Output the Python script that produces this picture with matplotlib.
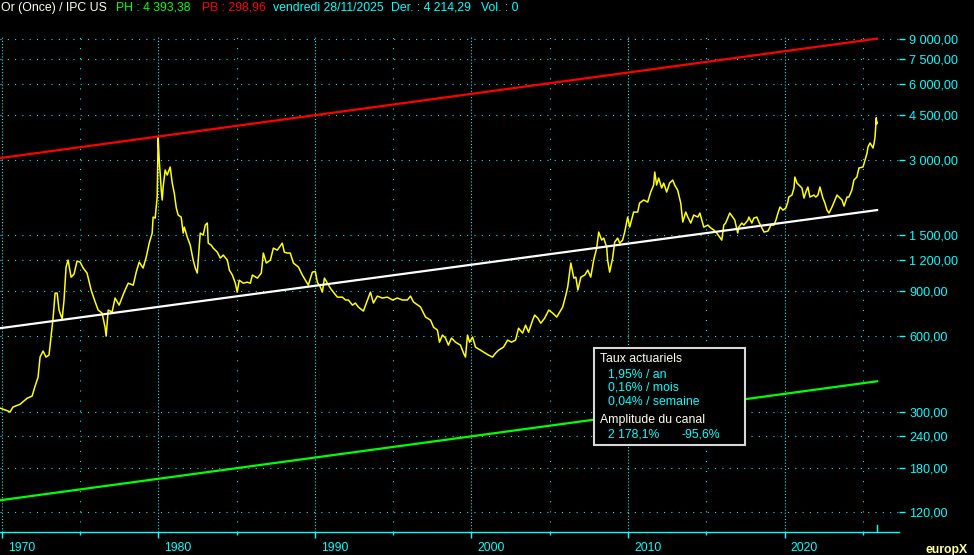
import matplotlib.pyplot as plt
from matplotlib.patches import Rectangle
from matplotlib.transforms import ScaledTranslation

plt.rcParams['font.family'] = ['Liberation Sans', 'DejaVu Sans']
plt.rcParams['lines.scale_dashes'] = False

# Or (once) / IPC US, dates en annees decimales
dates = [1969.89, 1970.40, 1970.53, 1970.72, 1971.17, 1971.62, 1971.94, 1972.13, 1972.32, 1972.45,
         1972.64, 1972.83, 1973.02, 1973.15, 1973.28, 1973.41, 1973.54, 1973.66, 1973.86, 1973.98,
         1974.11, 1974.24, 1974.43, 1974.62, 1974.81, 1975.01, 1975.20, 1975.45, 1975.71, 1975.97,
         1976.16, 1976.41, 1976.60, 1976.67, 1976.80, 1977.05, 1977.24, 1977.50, 1977.82, 1978.08,
         1978.40, 1978.59, 1978.78, 1979.03, 1979.23, 1979.42, 1979.61, 1979.67, 1979.80, 1979.93,
         1979.99, 1980.06, 1980.19, 1980.25, 1980.31, 1980.44, 1980.57, 1980.76, 1980.89, 1981.02,
         1981.15, 1981.27, 1981.46, 1981.59, 1981.66, 1981.85, 1982.04, 1982.23, 1982.36, 1982.49,
         1982.55, 1982.68, 1982.87, 1983.00, 1983.13, 1983.19, 1983.38, 1983.51, 1983.77, 1983.96,
         1984.15, 1984.41, 1984.54, 1984.73, 1984.92, 1985.04, 1985.17, 1985.43, 1985.68, 1985.88,
         1986.01, 1986.33, 1986.58, 1986.71, 1986.90, 1987.16, 1987.35, 1987.60, 1987.92, 1988.05,
         1988.24, 1988.43, 1988.63, 1988.95, 1989.20, 1989.39, 1989.58, 1989.84, 1990.03, 1990.16,
         1990.35, 1990.48, 1990.61, 1990.80, 1990.99, 1991.18, 1991.44, 1991.76, 1991.95, 1992.14,
         1992.40, 1992.59, 1992.78, 1993.10, 1993.36, 1993.55, 1993.74, 1993.99, 1994.31, 1994.63,
         1994.96, 1995.27, 1995.59, 1995.91, 1996.11, 1996.30, 1996.75, 1997.07, 1997.39, 1997.58,
         1997.83, 1997.96, 1998.15, 1998.34, 1998.53, 1998.73, 1998.98, 1999.30, 1999.50, 1999.62,
         1999.75, 1999.88, 2000.07, 2000.26, 2000.58, 2000.90, 2001.09, 2001.35, 2001.54, 2001.73,
         2002.05, 2002.31, 2002.56, 2002.82, 2003.01, 2003.27, 2003.46, 2003.65, 2003.91, 2004.04,
         2004.24, 2004.43, 2004.68, 2004.94, 2005.19, 2005.45, 2005.64, 2005.83, 2006.03, 2006.15,
         2006.35, 2006.54, 2006.67, 2006.80, 2006.99, 2007.24, 2007.43, 2007.62, 2007.81, 2008.00,
         2008.13, 2008.32, 2008.45, 2008.64, 2008.70, 2008.83, 2009.02, 2009.15, 2009.34, 2009.47,
         2009.66, 2009.79, 2009.98, 2010.11, 2010.36, 2010.62, 2010.74, 2011.00, 2011.26, 2011.45,
         2011.64, 2011.71, 2011.83, 2011.96, 2012.15, 2012.28, 2012.47, 2012.66, 2012.86, 2012.98,
         2013.17, 2013.37, 2013.50, 2013.69, 2013.82, 2014.01, 2014.20, 2014.46, 2014.59, 2014.84,
         2015.10, 2015.29, 2015.48, 2015.67, 2015.99, 2016.12, 2016.24, 2016.37, 2016.50, 2016.69,
         2016.82, 2017.01, 2017.08, 2017.27, 2017.40, 2017.66, 2017.72, 2017.91, 2018.04, 2018.23,
         2018.36, 2018.56, 2018.69, 2018.94, 2019.13, 2019.32, 2019.45, 2019.58, 2019.71, 2019.90,
         2020.08, 2020.21, 2020.27, 2020.47, 2020.60, 2020.66, 2020.79, 2020.92, 2021.11, 2021.24,
         2021.36, 2021.49, 2021.62, 2021.87, 2022.00, 2022.13, 2022.26, 2022.45, 2022.58, 2022.71,
         2022.84, 2023.03, 2023.22, 2023.35, 2023.48, 2023.67, 2023.80, 2023.99, 2024.11, 2024.30,
         2024.43, 2024.62, 2024.75, 2025.01, 2025.14, 2025.27, 2025.33, 2025.46, 2025.65, 2025.72,
         2025.78, 2025.82, 2025.86, 2025.88, 2025.91]
prices = [310, 302, 299, 313, 321, 339, 346, 379, 411, 494,
          522, 494, 503, 593, 705, 886, 886, 759, 699, 832,
          1124, 1198, 1025, 1054, 1187, 1176, 1114, 1064, 911, 817,
          759, 738, 649, 598, 759, 745, 847, 794, 894, 970,
          953, 1073, 1176, 1114, 1231, 1398, 1533, 1774, 1758, 2130,
          3680, 2987, 2271, 2073, 2334, 2726, 2604, 2802, 2421, 2209,
          1927, 1807, 1774, 1533, 1619, 1478, 1373, 1198, 1114, 1064,
          1198, 1533, 1505, 1649, 1680, 1398, 1373, 1336, 1288, 1220,
          1254, 1198, 1093, 1045, 970, 894, 997, 970, 979, 970,
          1045, 1016, 1064, 1277, 1166, 1198, 1336, 1312, 1398, 1288,
          1277, 1277, 1166, 1124, 1045, 997, 953, 1073, 1080, 979,
          936, 894, 1016, 970, 927, 894, 854, 854, 832, 832,
          794, 809, 780, 752, 832, 894, 809, 862, 847, 854,
          832, 847, 832, 832, 862, 817, 780, 712, 692, 649,
          632, 566, 604, 588, 551, 588, 566, 551, 512, 494,
          604, 566, 593, 541, 526, 512, 503, 494, 512, 526,
          541, 577, 566, 577, 643, 615, 661, 620, 692, 725,
          705, 673, 705, 759, 738, 712, 745, 780, 870, 936,
          1166, 1016, 1025, 911, 1025, 1045, 1093, 1025, 1198, 1336,
          1547, 1438, 1464, 1348, 1198, 1073, 1220, 1411, 1464, 1398,
          1438, 1547, 1774, 1619, 1857, 1857, 2016, 2073, 2035, 2229,
          2377, 2676, 2377, 2533, 2313, 2421, 2229, 2421, 2488, 2377,
          2271, 2016, 1695, 1857, 1774, 1680, 1807, 1774, 1840, 1619,
          1649, 1605, 1576, 1533, 1438, 1649, 1680, 1758, 1840, 1774,
          1726, 1533, 1619, 1680, 1649, 1726, 1774, 1680, 1758, 1774,
          1695, 1605, 1547, 1561, 1649, 1649, 1726, 1840, 1944, 1891,
          1927, 2035, 2130, 2169, 2313, 2557, 2421, 2377, 2313, 2110,
          2229, 2334, 2130, 2169, 2130, 2169, 2334, 2110, 2016, 1891,
          1840, 1944, 2073, 2169, 2130, 2073, 1962, 2130, 2130, 2271,
          2488, 2557, 2777, 2802, 2987, 3184, 3364, 3490, 3334, 3490,
          3686, 4038, 4393, 4150, 4214]

# canal de regression (debut / fin)
channel_dates = [1969.89, 2025.91]
channel_upper = [3040, 9050]
channel_mid = [643, 1891]
channel_lower = [133.6, 396]

price_ticks = [120, 180, 240, 300, 600, 900, 1200, 1500, 3000, 4500, 6000, 7500, 9000]
price_labels = ['120,00', '180,00', '240,00', '300,00', '600,00', '900,00', '1 200,00',
                '1 500,00', '3 000,00', '4 500,00', '6 000,00', '7 500,00', '9 000,00']
decades = [1970, 1980, 1990, 2000, 2010, 2020]
half_decades = [1975, 1985, 1995, 2005, 2015, 2025]

CYAN = '#00ffff'
W, H = 974, 555

fig = plt.figure(figsize=(W / 100, H / 100), dpi=100, facecolor='black')
ax = fig.add_axes([0, 23 / H, 899 / W, 496 / H], facecolor='black')

ax.set_yscale('log')
ax.set_ylim(100, 9270)
ax.set_xlim(1969.89, 2027.31)

# grille pointillee
for v in price_ticks:
    ax.axhline(v, color=CYAN, lw=0.8, ls=(0, (0.75, 4.5)), zorder=1)
for d in decades:
    ax.axvline(d, color=CYAN, lw=0.8, ls=(0, (0.75, 1.5)), zorder=1)
for d in half_decades:
    ax.axvline(d, color=CYAN, lw=0.8, ls=(0, (0.75, 6.5)), zorder=1)

ax.plot(dates, prices, color='#ffff00', lw=1.1, zorder=3)
ax.plot(channel_dates, channel_upper, color='#ff0000', lw=1.6, zorder=4)
ax.plot(channel_dates, channel_mid, color='#ffffff', lw=1.6, zorder=4)
ax.plot(channel_dates, channel_lower, color='#00ff00', lw=1.6, zorder=4)

# axe des prix a droite
ax.yaxis.tick_right()
ax.set_yticks(price_ticks)
ax.set_yticklabels(price_labels)
ax.yaxis.set_minor_locator(plt.NullLocator())
ax.tick_params(axis='y', colors=CYAN, length=4.5, width=1, pad=3, labelsize=9.1)

# axe du temps
ax.set_xticks(decades)
ax.set_xticklabels([str(d) for d in decades])
ax.set_xticks(half_decades, minor=True)
ax.tick_params(axis='x', which='major', colors=CYAN, length=4.3, width=1, pad=3, labelsize=8.8)
ax.tick_params(axis='x', which='minor', colors=CYAN, length=2.2, width=1)
for lab in ax.get_xticklabels():
    lab.set_horizontalalignment('left')
    lab.set_transform(lab.get_transform() + ScaledTranslation(6 / 100, 0, fig.dpi_scale_trans))
ax.axvline(channel_dates[-1], ymin=0, ymax=7 / 496, color=CYAN, lw=1)

for s in ['top', 'left', 'right']:
    ax.spines[s].set_visible(False)
ax.spines['bottom'].set_color(CYAN)
ax.spines['bottom'].set_linewidth(1)

# entete
header = [(1, 'Or (Once) / IPC US', '#ffffe8'), (116, 'PH : 4 393,38', '#00ff00'),
          (202, 'PB : 298,96', '#ff0000'), (273, 'vendredi 28/11/2025', CYAN),
          (391, 'Der. : 4 214,29', CYAN), (481, 'Vol. : 0', CYAN)]
for x, txt, c in header:
    fig.text(x / W, 1 - 11 / H, txt, color=c, fontsize=8.8, va='baseline', ha='left')

# cadre des taux
fig.add_artist(Rectangle((593.5 / W, 1 - 445 / H), 151.5 / W, 97 / H, transform=fig.transFigure,
                         facecolor='black', edgecolor='#d8d8d8', lw=1.5, zorder=5))
box_lines = [(600, 362, 'Taux actuariels', '#ffffe8'), (608, 377.7, '1,95% / an', CYAN),
             (608, 390.7, '0,16% / mois', CYAN), (608, 404, '0,04% / semaine', CYAN),
             (600, 422.7, 'Amplitude du canal', '#ffffe8'), (608, 437.3, '2 178,1%', CYAN),
             (681, 437.3, '-95,6%', CYAN)]
for x, y, txt, c in box_lines:
    fig.text(x / W, 1 - y / H, txt, color=c, fontsize=8.8, va='baseline', ha='left', zorder=6)

fig.text(926 / W, 1 - 553 / H, 'europX', color='#ffff99', fontsize=8.8, fontweight='bold',
         va='baseline', ha='left')

fig.savefig('out.png', dpi=100, facecolor='black')
